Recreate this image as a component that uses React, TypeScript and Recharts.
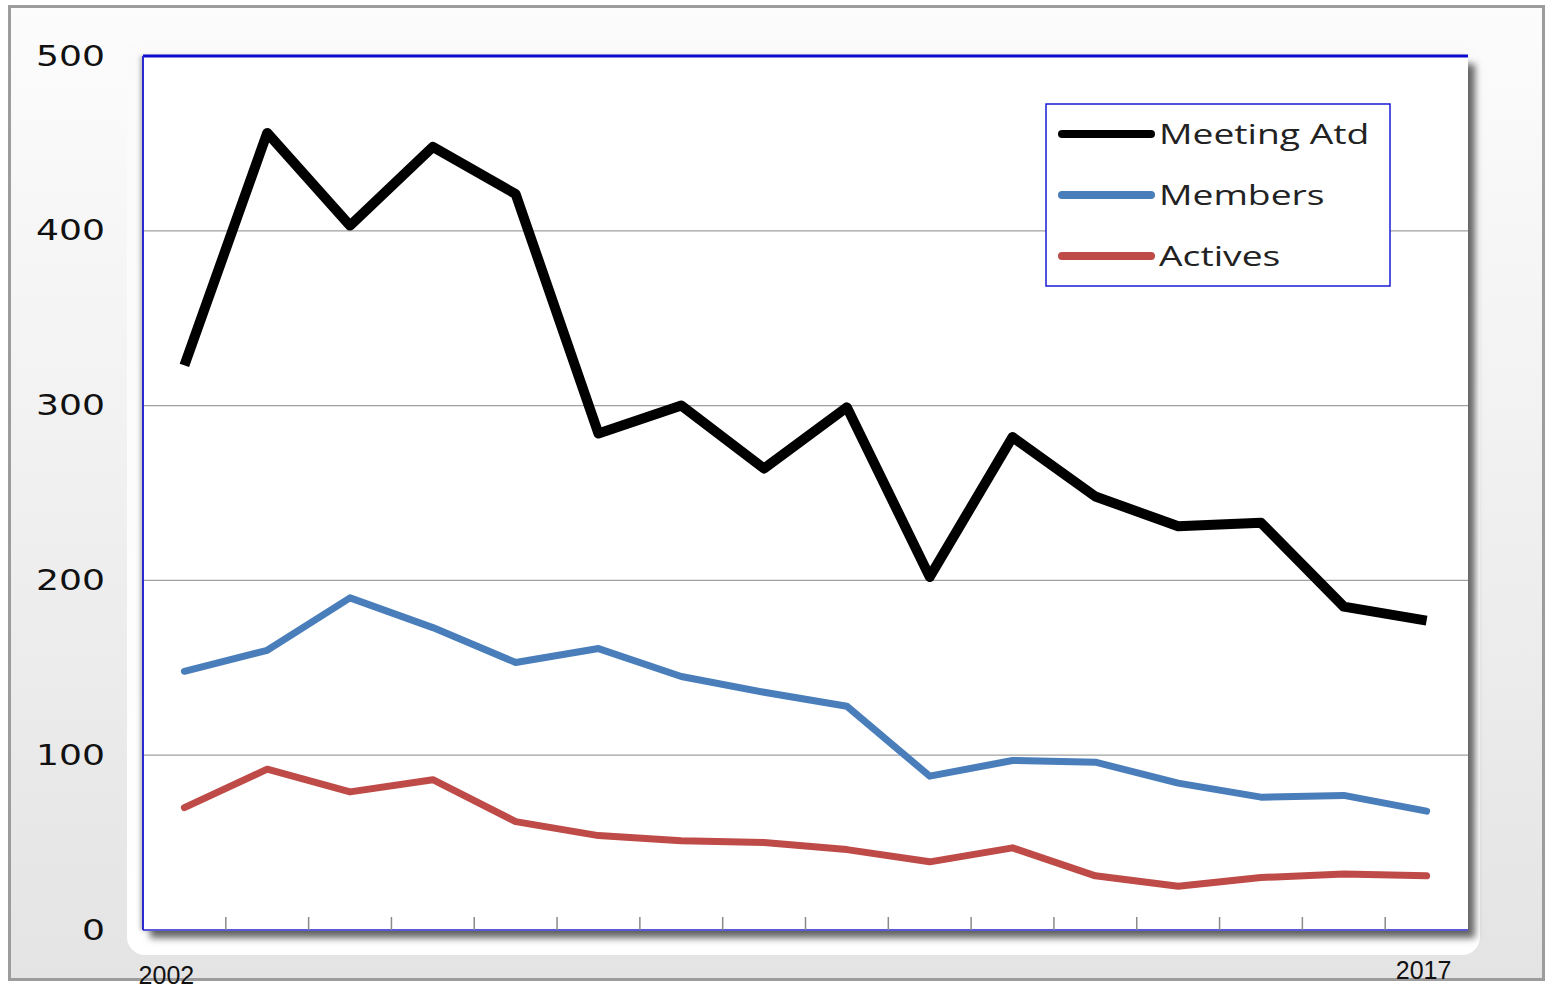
import { LineChart, Line, XAxis, YAxis, CartesianGrid, Legend, ReferenceLine } from "recharts";

// values
const years = [2002, 2003, 2004, 2005, 2006, 2007, 2008, 2009, 2010, 2011, 2012, 2013, 2014, 2015, 2016, 2017];
const meetingAtd = [323, 456, 403, 448, 421, 284, 300, 264, 299, 202, 282, 248, 231, 233, 185, 177];
const members = [148, 160, 190, 173, 153, 161, 145, 136, 128, 88, 97, 96, 84, 76, 77, 68];
const actives = [70, 92, 79, 86, 62, 54, 51, 50, 46, 39, 47, 31, 25, 30, 32, 31];
const yTicks = [0, 100, 200, 300, 400, 500];
const yearLabels = [2002, 2017];

// tick marks sit between the years
const boundaryTicks = years.slice(0, -1).map((y) => y + 0.5);
const xDomain = [years[0] - 0.5, years[years.length - 1] + 0.5];

const data = years.map((year, i) => ({
  year,
  meetingAtd: meetingAtd[i],
  members: members[i],
  actives: actives[i],
}));

const seriesOrder = ["meetingAtd", "members", "actives"];
const names: Record<string, string> = {
  meetingAtd: "Meeting Atd",
  members: "Members",
  actives: "Actives",
};

const STRETCH = 1.29;

function YTick({ x, y, payload }: any) {
  return (
    <text
      transform={`translate(${x},${y}) scale(${STRETCH},1)`}
      textAnchor="end"
      dominantBaseline="central"
      fontFamily="DejaVu Sans"
      fontSize={28}
      fill="#111"
    >
      {payload.value}
    </text>
  );
}

function YearTick({ x, y, payload }: any) {
  const first = payload.value === years[0];
  return (
    <text
      x={x + (first ? -18 : -3)}
      y={y + (first ? 54 : 49)}
      textAnchor="middle"
      fontFamily="Liberation Sans"
      fontSize={25}
      fill="#111"
    >
      {payload.value}
    </text>
  );
}

function NoLabel() {
  return <g />;
}

function LegendBox({ payload }: any) {
  const rows = [...(payload || [])].sort(
    (a: any, b: any) => seriesOrder.indexOf(a.dataKey) - seriesOrder.indexOf(b.dataKey)
  );
  return (
    <svg width={346} height={184} style={{ display: "block" }}>
      <rect x={1} y={1} width={344} height={182} fill="#fff" stroke="#1a1ad6" strokeWidth={1.5} />
      {rows.map((p: any, i: number) => {
        const cy = 31 + i * 61;
        return (
          <g key={p.value}>
            <line x1={17} x2={106} y1={cy} y2={cy} stroke={p.color} strokeWidth={8} strokeLinecap="round" />
            <text
              transform={`translate(114,${cy + 10}) scale(1.33,1)`}
              fontFamily="Open Sans"
              fontSize={28}
              fill="#222"
            >
              {names[p.dataKey] ?? p.value}
            </text>
          </g>
        );
      })}
    </svg>
  );
}

export default function App() {
  return (
    <div style={{ position: "absolute", left: 0, top: 0, width: 1550, height: 990, overflow: "hidden", background: "#fff" }}>
      <div
        style={{
          position: "absolute",
          left: 8,
          top: 5,
          width: 1537,
          height: 976,
          boxSizing: "border-box",
          border: "3px solid #9c9c9c",
          background: "linear-gradient(to bottom, #fcfcfc, #e4e4e4)",
        }}
      />
      <div
        style={{
          position: "absolute",
          left: 127,
          top: 40,
          width: 1353,
          height: 915,
          borderRadius: 18,
          background: "linear-gradient(to bottom, #fafafa, #ffffff)",
        }}
      />
      <div
        style={{
          position: "absolute",
          left: 143,
          top: 56,
          width: 1325,
          height: 874,
          background: "#fff",
          boxShadow: "7px 8px 7px rgba(0,0,0,0.6), -3px 0 4px rgba(0,0,0,0.25)",
        }}
      />
      <div style={{ position: "absolute", left: 0, top: 0 }}>
        <LineChart width={1550} height={990} data={data} margin={{ top: 56, right: 82, left: 0, bottom: 0 }}>
          <CartesianGrid vertical={false} horizontalValues={[100, 200, 300, 400]} stroke="#a0a0a0" strokeWidth={1.2} />
          <XAxis
            xAxisId="marks"
            type="number"
            dataKey="year"
            domain={xDomain}
            ticks={boundaryTicks}
            tick={<NoLabel />}
            mirror
            tickSize={13}
            height={30}
            tickLine={{ stroke: "#8a8a8a", strokeWidth: 1.5 }}
            axisLine={{ stroke: "#5a5ad8", strokeWidth: 2 }}
          />
          <XAxis
            xAxisId="labels"
            type="number"
            dataKey="year"
            domain={xDomain}
            ticks={yearLabels}
            height={60}
            axisLine={false}
            tickLine={false}
            tickSize={0}
            tickMargin={0}
            tick={<YearTick />}
          />
          <YAxis
            type="number"
            domain={[0, 500]}
            ticks={yTicks}
            width={143}
            tickLine={false}
            tickSize={0}
            tickMargin={38}
            axisLine={{ stroke: "#2a2ad0", strokeWidth: 2 }}
            tick={<YTick />}
          />
          <ReferenceLine xAxisId="marks" y={500} stroke="#0a0ad0" strokeWidth={3} />
          <Legend
            layout="vertical"
            verticalAlign="middle"
            align="center"
            content={<LegendBox />}
            wrapperStyle={{ position: "absolute", left: 1045, top: 103, width: 346, height: 184 }}
          />
          <Line
            xAxisId="marks"
            type="linear"
            dataKey="meetingAtd"
            name="meetingAtd"
            stroke="#000000"
            strokeWidth={10}
            strokeLinejoin="round"
            dot={false}
            activeDot={false}
            isAnimationActive={false}
          />
          <Line
            xAxisId="marks"
            type="linear"
            dataKey="members"
            name="members"
            stroke="#4a7ebb"
            strokeWidth={7}
            strokeLinejoin="round"
            strokeLinecap="round"
            dot={false}
            activeDot={false}
            isAnimationActive={false}
          />
          <Line
            xAxisId="marks"
            type="linear"
            dataKey="actives"
            name="actives"
            stroke="#be4b48"
            strokeWidth={7}
            strokeLinejoin="round"
            strokeLinecap="round"
            dot={false}
            activeDot={false}
            isAnimationActive={false}
          />
        </LineChart>
      </div>
    </div>
  );
}
